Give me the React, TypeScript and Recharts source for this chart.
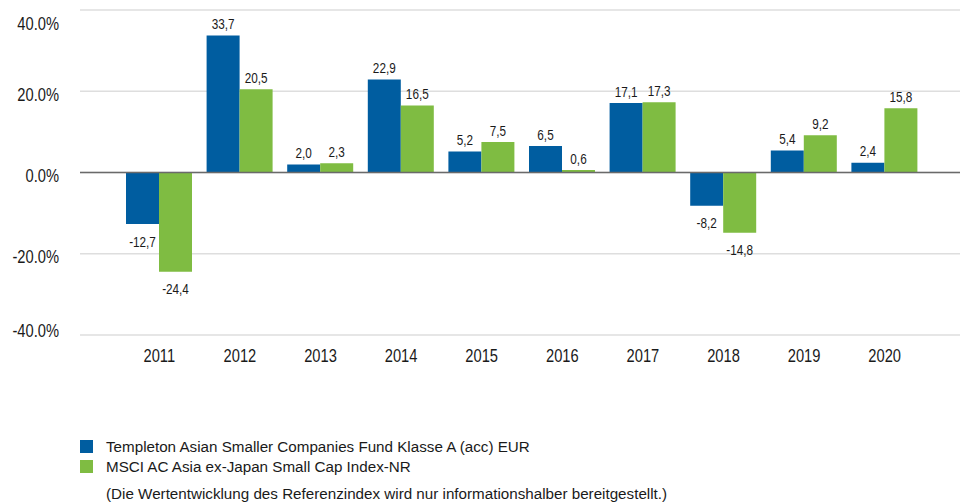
import React from "react"
import { BarChart, Bar, XAxis, YAxis, CartesianGrid, ReferenceLine, LabelList } from "recharts"

const years = ["2011", "2012", "2013", "2014", "2015", "2016", "2017", "2018", "2019", "2020"]
const fundReturns = [-12.7, 33.7, 2.0, 22.9, 5.2, 6.5, 17.1, -8.2, 5.4, 2.4]
const indexReturns = [-24.4, 20.5, 2.3, 16.5, 7.5, 0.6, 17.3, -14.8, 9.2, 15.8]
const yTicks = [-40, -20, 0, 20, 40]

const seriesNames = [
  "Templeton Asian Smaller Companies Fund Klasse A (acc) EUR",
  "MSCI AC Asia ex-Japan Small Cap Index-NR",
]
const seriesColors = ["#005da0", "#7fbc42"]
const footnote = "(Die Wertentwicklung des Referenzindex wird nur informationshalber bereitgestellt.)"

const data = years.map((year, i) => ({ year, fund: fundReturns[i], index: indexReturns[i] }))

const font = '"Liberation Sans", Arial, sans-serif'
// the source text looks horizontally squeezed, so squash it a bit
const squeeze = 0.84

const fmt = (v: number) => v.toFixed(1).replace(".", ",")

function Squeezed({ x, y, size, anchor, children }: any) {
  return (
    <text
      transform={`translate(${x},${y}) scale(${squeeze},1)`}
      textAnchor={anchor}
      fontFamily={font}
      fontSize={size}
      fill="#1a1a1a"
    >
      {children}
    </text>
  )
}

function YTick(props: any) {
  const { y, payload } = props
  // labels sit a little below their gridline; the outer two are pulled inside the plot
  const base = Math.min(337, Math.max(30, y + 9.5))
  return (
    <Squeezed x={59} y={base} size={17.5} anchor="end">
      {payload.value.toFixed(1)}%
    </Squeezed>
  )
}

function XTick(props: any) {
  const { x, y, payload } = props
  return (
    <Squeezed x={x} y={y + 27} size={17.5} anchor="middle">
      {payload.value}
    </Squeezed>
  )
}

function ValueLabel(props: any) {
  const { x, y, width, height, value } = props
  const top = Math.min(y, y + height)
  const bottom = Math.max(y, y + height)
  const ty = value >= 0 ? top - 6.5 : bottom + 22.5
  return (
    <Squeezed x={x + width / 2} y={ty} size={14} anchor="middle">
      {fmt(value)}
    </Squeezed>
  )
}

export default function App() {
  return (
    <div style={{ position: "absolute", left: 0, top: 0, width: 960, height: 504, background: "#fff" }}>
      <BarChart
        width={960}
        height={370}
        data={data}
        margin={{ top: 10, right: 0, left: 0, bottom: 0 }}
        barGap={0}
        barSize={33}
      >
        <CartesianGrid vertical={false} stroke="#dedede" strokeWidth={1.3} />
        <XAxis
          dataKey="year"
          axisLine={false}
          tickLine={false}
          tickSize={0}
          tickMargin={0}
          height={35}
          padding={{ left: 39, right: 35 }}
          tick={<XTick />}
        />
        <YAxis
          domain={[-40, 40]}
          ticks={yTicks}
          axisLine={false}
          tickLine={false}
          tickSize={0}
          tickMargin={0}
          width={80}
          tick={<YTick />}
        />
        <ReferenceLine y={0} stroke="#6a6a6a" strokeWidth={1.6} />
        <Bar dataKey="fund" fill={seriesColors[0]} isAnimationActive={false}>
          <LabelList dataKey="fund" content={<ValueLabel />} />
        </Bar>
        <Bar dataKey="index" fill={seriesColors[1]} isAnimationActive={false}>
          <LabelList dataKey="index" content={<ValueLabel />} />
        </Bar>
      </BarChart>

      <div style={{ position: "absolute", left: 80, top: 436, fontFamily: font, fontSize: 15.2, color: "#1a1a1a" }}>
        {seriesNames.map((name, i) => (
          <div key={name} style={{ display: "flex", alignItems: "center", height: 20 }}>
            <div style={{ width: 13, height: 13, background: seriesColors[i], marginRight: 13 }} />
            <span>{name}</span>
          </div>
        ))}
      </div>
      <div
        style={{
          position: "absolute",
          left: 106,
          top: 485,
          fontFamily: font,
          fontSize: 15.2,
          color: "#1a1a1a",
          whiteSpace: "nowrap",
        }}
      >
        {footnote}
      </div>
    </div>
  )
}
